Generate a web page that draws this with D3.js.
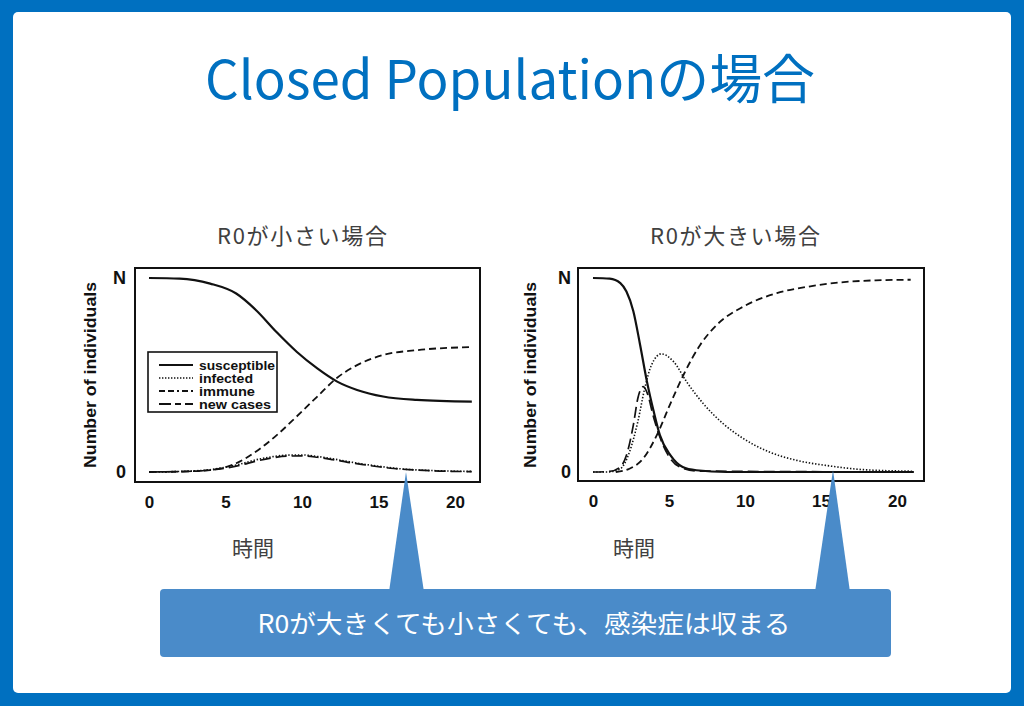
<!DOCTYPE html>
<html><head><meta charset="utf-8">
<script src="https://cdn.jsdelivr.net/npm/d3@7"></script>
<style>
html,body{margin:0;padding:0;background:#fff;}
svg{display:block;}
</style></head>
<body>
<svg id="c" width="1024" height="706"></svg>
<script>
// ---------- data ----------
const titleText = "Closed Populationの場合";
const panelTitles = ["R0が小さい場合", "R0が大きい場合"];
const xLabel = "時間";
const yLabel = "Number of individuals";
const xTicks = [0, 5, 10, 15, 20];
const yTickLabels = ["0", "N"];
const seriesNames = ["susceptible", "infected", "immune", "new cases"];
const calloutText = "R0が大きくても小さくても、感染症は収まる";

// Left panel (small R0)
const smallSusT = [0, 2, 4, 5.7, 7, 8.35, 9.65, 11, 12.3, 13.6, 15.3, 17.5, 21.1];
const smallSusV = [1.0, 0.997, 0.971, 0.92, 0.834, 0.72, 0.62, 0.534, 0.466, 0.423, 0.389, 0.372, 0.363];
const smallInfT = [0, 2, 4, 5, 6, 7, 8, 9, 10, 11, 12, 13, 14, 15, 16, 17, 18, 19, 21.1];
const smallInfV = [0, 0.003, 0.012, 0.025, 0.042, 0.063, 0.078, 0.087, 0.088, 0.08, 0.068, 0.054, 0.041, 0.03, 0.02, 0.013, 0.009, 0.006, 0.003];
const smallImmT = [0, 2, 4, 5, 5.7, 7, 8.35, 9.65, 11, 12.3, 13.6, 15.3, 17.5, 21.1];
const smallImmV = [0, 0.002, 0.01, 0.025, 0.045, 0.106, 0.19, 0.286, 0.389, 0.486, 0.551, 0.603, 0.628, 0.644];
const smallNewT = [0, 2, 4, 5, 6, 7, 8, 9, 10, 11, 12, 13, 14, 15, 16, 17, 18, 19, 21.1];
const smallNewV = [0, 0.002, 0.01, 0.02, 0.036, 0.056, 0.072, 0.082, 0.083, 0.076, 0.064, 0.05, 0.038, 0.027, 0.018, 0.012, 0.008, 0.005, 0.002];

// Right panel (large R0)
const largeSusT = [0, 1.1, 1.8, 2.2, 2.65, 3.1, 3.55, 4.0, 4.4, 5.1, 5.9, 6.8, 8.8, 21.1];
const largeSusV = [1, 0.997, 0.974, 0.93, 0.83, 0.655, 0.466, 0.31, 0.19, 0.086, 0.026, 0.009, 0.0, 0.0];
const largeInfT = [0, 0.9, 1.8, 2.4, 2.95, 3.4, 3.85, 4.5, 5.3, 6.15, 7.25, 8.55, 9.9, 11.6, 13.4, 15.6, 17.8, 21.1];
const largeInfV = [0, 0.0, 0.017, 0.103, 0.26, 0.43, 0.552, 0.609, 0.569, 0.466, 0.353, 0.25, 0.172, 0.103, 0.06, 0.031, 0.012, 0.004];
const largeImmT = [1.5, 2.4, 3.3, 4.2, 5.05, 5.95, 7.05, 8.15, 9.9, 12.1, 14.3, 16.5, 18.6, 20.9];
const largeImmV = [0, 0.017, 0.069, 0.19, 0.345, 0.5, 0.655, 0.759, 0.853, 0.922, 0.957, 0.979, 0.988, 0.991];
const largeNewT = [0, 1.1, 1.8, 2.2, 2.65, 2.95, 3.3, 3.6, 3.95, 4.4, 4.95, 5.7, 6.8, 21.1];
const largeNewV = [0, 0.003, 0.026, 0.086, 0.24, 0.38, 0.44, 0.40, 0.293, 0.18, 0.086, 0.026, 0.005, 0];

// ---------- drawing ----------
const svg = d3.select("#c");
const BLUE = "#0070C0";
const CALL = "#4A8BC9";
const CJK = "'Noto Sans CJK JP','Noto Sans',sans-serif";
const PLOTF = "'Liberation Sans',Arial,sans-serif";

svg.append("rect").attr("width", 1024).attr("height", 706).attr("fill", BLUE);
svg.append("rect").attr("x", 13).attr("y", 12).attr("width", 998).attr("height", 681)
  .attr("rx", 5).attr("fill", "#fff");

svg.append("text").text(titleText)
  .attr("x", 510).attr("y", 99).attr("text-anchor", "middle")
  .attr("font-family", CJK).attr("font-size", 53).attr("fill", BLUE)
  .attr("textLength", 610).attr("lengthAdjust", "spacingAndGlyphs");

const styles = {
  "susceptible": {dash: null, w: 2.2},
  "infected": {dash: "1.4,1.8", w: 1.6},
  "immune": {dash: "7,4", w: 1.8},
  "new cases": {dash: "11,5", w: 1.7}
};

const panels = [
  {frame: [135, 268, 480, 482], x0: 149, x20: 455, yN: 278, y0: 472,
   title: panelTitles[0], tx: 302, ylx: 90, tickX: 119, timeX: 253, legend: true,
   series: [["susceptible", smallSusT, smallSusV], ["immune", smallImmT, smallImmV],
            ["infected", smallInfT, smallInfV], ["new cases", smallNewT, smallNewV]]},
  {frame: [578, 268, 924, 481], x0: 593, x20: 897, yN: 278, y0: 472,
   title: panelTitles[1], tx: 735, ylx: 530, tickX: 564, timeX: 634, legend: false,
   series: [["susceptible", largeSusT, largeSusV], ["immune", largeImmT, largeImmV],
            ["infected", largeInfT, largeInfV], ["new cases", largeNewT, largeNewV]]}
];

panels.forEach(p => {
  const x = d3.scaleLinear().domain([0, 20]).range([p.x0, p.x20]);
  const y = d3.scaleLinear().domain([0, 1]).range([p.y0, p.yN]);
  const g = svg.append("g");

  g.append("text").text(p.title).attr("x", p.tx).attr("y", 244)
    .attr("text-anchor", "middle").attr("font-family", CJK).attr("font-size", 22)
    .attr("fill", "#404040").attr("textLength", 170).attr("lengthAdjust", "spacing");

  const [l, t, r, b] = p.frame;
  g.append("rect").attr("x", l).attr("y", t).attr("width", r - l).attr("height", b - t)
    .attr("fill", "none").attr("stroke", "#111").attr("stroke-width", 2);

  const xa = g.append("g").attr("transform", `translate(0,${b + 2})`)
    .call(d3.axisBottom(x).tickValues(xTicks).tickSize(0).tickPadding(12).tickFormat(d3.format("d")));
  xa.select(".domain").remove();
  xa.selectAll("text").attr("font-family", PLOTF).attr("font-weight", "bold")
    .attr("font-size", 17).attr("fill", "#111");

  const ya = g.append("g").attr("transform", `translate(${p.tickX + 7},0)`)
    .call(d3.axisLeft(y).tickValues([0, 1]).tickSize(0).tickPadding(0)
      .tickFormat((d, i) => yTickLabels[i]));
  ya.select(".domain").remove();
  ya.selectAll("text").attr("font-family", PLOTF).attr("font-weight", "bold")
    .attr("font-size", 18).attr("fill", "#111");

  g.append("text").text(yLabel)
    .attr("transform", `translate(${p.ylx + 6},${375}) rotate(-90)`)
    .attr("text-anchor", "middle").attr("font-family", PLOTF).attr("font-weight", "bold")
    .attr("font-size", 17).attr("fill", "#111")
    .attr("textLength", 186).attr("lengthAdjust", "spacingAndGlyphs");

  g.append("text").text(xLabel).attr("x", p.timeX).attr("y", 556)
    .attr("text-anchor", "middle").attr("font-family", CJK).attr("font-size", 21)
    .attr("fill", "#404040");

  const line = d3.line().x(d => x(d[0])).y(d => y(d[1])).curve(d3.curveMonotoneX);
  p.series.forEach(([name, ts, vs]) => {
    const st = styles[name];
    g.append("path").datum(ts.map((tt, i) => [tt, vs[i]]))
      .attr("d", line).attr("fill", "none").attr("stroke", "#111")
      .attr("stroke-width", st.w).attr("stroke-dasharray", st.dash)
      .attr("stroke-linecap", "butt");
  });

  if (p.legend) {
    const lg = g.append("g");
    lg.append("rect").attr("x", 148).attr("y", 352).attr("width", 129).attr("height", 60)
      .attr("fill", "#fff").attr("stroke", "#111").attr("stroke-width", 1.6);
    const legStyles = {
      "susceptible": {dash: null, w: 2},
      "infected": {dash: "1.4,1.6", w: 1.6},
      "immune": {dash: "6,3,6,3,2,3", w: 1.8},
      "new cases": {dash: "12,4,6,4", w: 1.8}
    };
    seriesNames.forEach((n, i) => {
      const yy = 365 + i * 13;
      lg.append("line").attr("x1", 159).attr("x2", 193).attr("y1", yy).attr("y2", yy)
        .attr("stroke", "#111").attr("stroke-width", legStyles[n].w)
        .attr("stroke-dasharray", legStyles[n].dash);
      lg.append("text").text(n).attr("x", 199).attr("y", yy + 4.5)
        .attr("font-family", PLOTF).attr("font-weight", "bold").attr("font-size", 12.5)
        .attr("fill", "#111")
        .attr("textLength", [76, 54, 56, 72][i]).attr("lengthAdjust", "spacingAndGlyphs");
    });
  }
});

const pointers = [[406, 472, 389, 424], [833, 470, 815, 850]];
pointers.forEach(([ax, ay, b1, b2]) => {
  svg.append("path").attr("d", `M${ax},${ay}L${b2},592L${b1},592Z`).attr("fill", CALL);
});
svg.append("rect").attr("x", 160).attr("y", 589).attr("width", 731).attr("height", 68)
  .attr("rx", 4).attr("fill", CALL);
svg.append("text").text(calloutText).attr("x", 524).attr("y", 633)
  .attr("text-anchor", "middle").attr("font-family", CJK).attr("font-size", 25)
  .attr("fill", "#fff").attr("textLength", 533).attr("lengthAdjust", "spacingAndGlyphs");
</script>
</body></html>
